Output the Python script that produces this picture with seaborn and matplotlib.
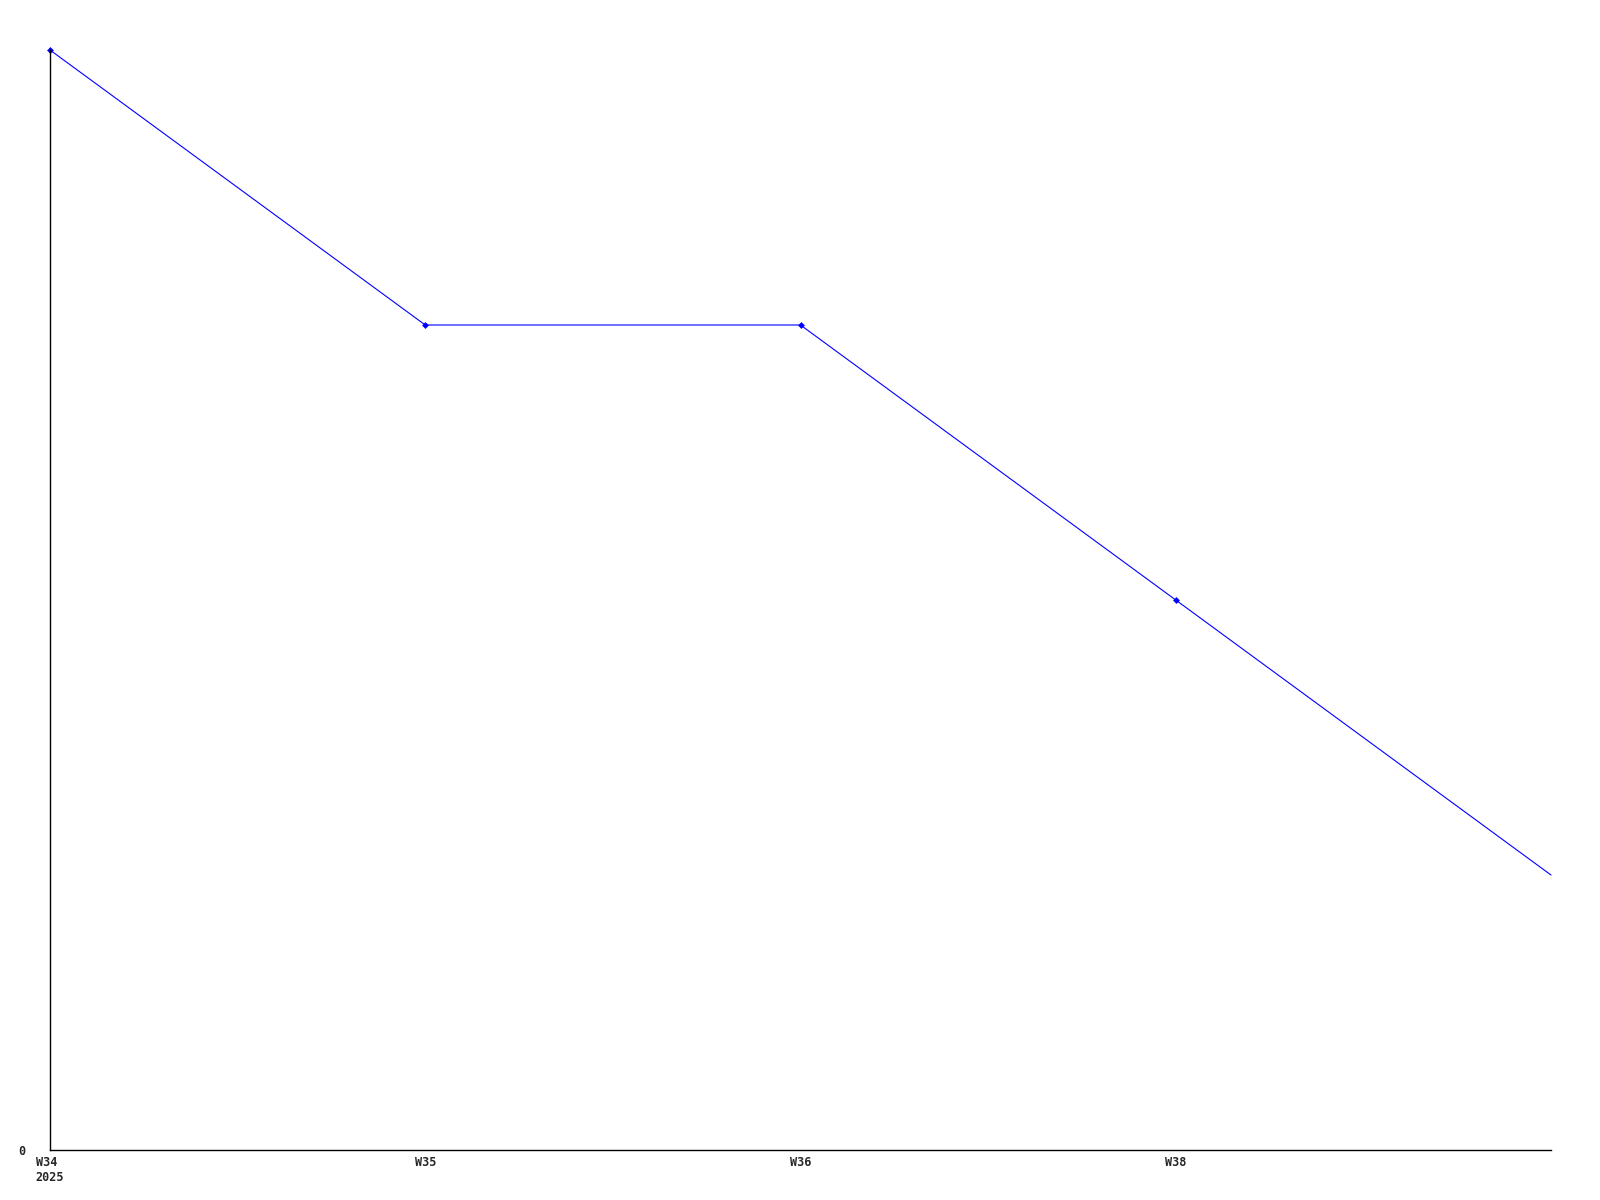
import matplotlib
matplotlib.use("Agg")
import matplotlib.pyplot as plt
import seaborn as sns

# Weekly values (last point runs off to the right edge, unlabeled)
weeks = ["W34\n2025", "W35", "W36", "W38", ""]
values = [4, 3, 3, 2, 1]
positions = list(range(len(values)))

sns.set_style("white")
plt.rcParams['font.family'] = ['DejaVu Sans Mono']

fig = plt.figure(figsize=(16, 12), dpi=100)
ax = fig.add_axes([50 / 1600, 50 / 1200, 1501 / 1600, 1100 / 1200])

sns.lineplot(x=positions, y=values, ax=ax, color="#0000ff", linewidth=0.8,
             marker="D", markersize=3.5, markeredgewidth=0, clip_on=False,
             markevery=list(range(len(values) - 1)))

ax.set_xlim(0, 4)
ax.set_ylim(0, 4)
ax.set_xticks(positions[:4])
ax.set_xticklabels(weeks[:4], fontsize=8.5, fontweight="bold",
                   multialignment="left", linespacing=1.25)
ax.set_yticks([0])
ax.set_yticklabels(["0"], fontsize=8.5, fontweight="bold")
ax.tick_params(axis="x", length=0, pad=4)
ax.tick_params(axis="y", length=0, pad=18)

for side in ["top", "right"]:
    ax.spines[side].set_visible(False)
for side in ["left", "bottom"]:
    ax.spines[side].set_color("black")
    ax.spines[side].set_linewidth(1)

ax.set_xlabel("")
ax.set_ylabel("")

plt.savefig("out.png", dpi=100)
plt.close()
